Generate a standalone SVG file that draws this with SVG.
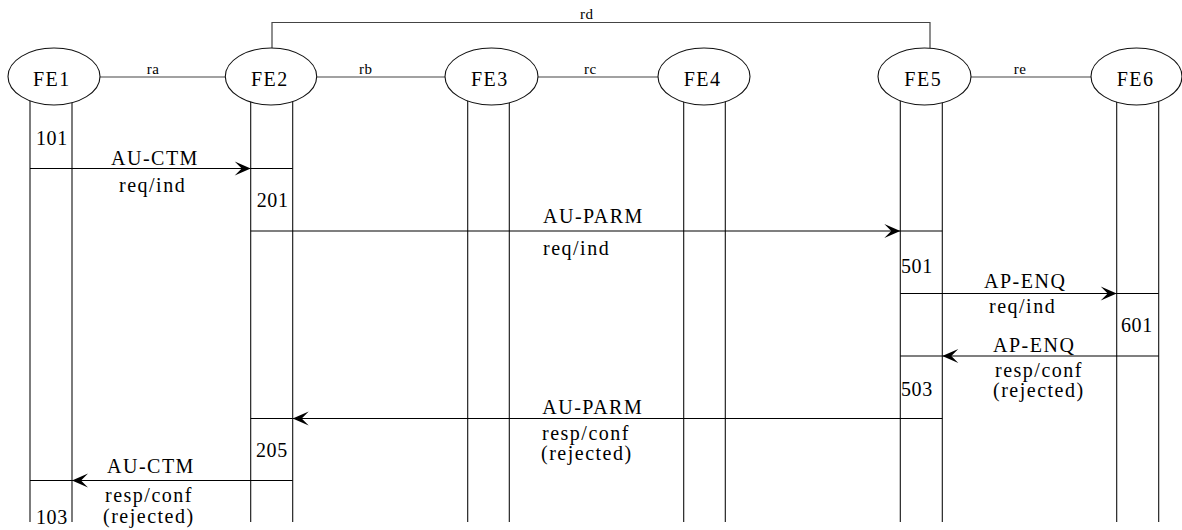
<svg xmlns="http://www.w3.org/2000/svg" width="1182" height="530" viewBox="0 0 1182 530">
<style>
.t{font-family:"Liberation Serif","Times New Roman",serif;font-size:20px;letter-spacing:1.5px;fill:#000}
.n{letter-spacing:0.6px}
.s{font-family:"Liberation Serif","Times New Roman",serif;font-size:15px;letter-spacing:0.6px;fill:#000}
.ell{fill:#fff;stroke:#111;stroke-width:1.1}
.life{stroke:#111;stroke-width:1.1;fill:none}
.link{stroke:#444;stroke-width:1.2;fill:none}
.msg{stroke:#000;stroke-width:1.1;fill:none}
</style>
<defs>
<marker id="ah" viewBox="-17 -8 18 16" refX="0" refY="0" markerWidth="18" markerHeight="16" markerUnits="userSpaceOnUse" orient="auto">
<path d="M0,0 L-16,-7 L-9,0 L-16,7 z" fill="#000"/>
</marker>
</defs>
<g id="links">
<path class="link" d="M100,77 H225.3"/>
<path class="link" d="M316.7,77 H445"/>
<path class="link" d="M538,77 H658"/>
<path class="link" d="M971,77 H1091"/>
<path class="link" d="M272,48 V22.5 H930 V48"/>
<text class="s" x="146.7" y="74">ra</text>
<text class="s" x="359" y="74">rb</text>
<text class="s" x="584" y="74">rc</text>
<text class="s" x="1013.7" y="74">re</text>
<text class="s" x="580" y="19">rd</text>
</g>
<g id="FE1">
<path class="life" d="M30,95 V522 M72,95 V522"/>
<ellipse class="ell" cx="54" cy="76.5" rx="46" ry="28.5"/>
<text class="t" x="33" y="86">FE1</text>
</g>
<g id="FE2">
<path class="life" d="M250.7,95 V522 M292.7,95 V522"/>
<ellipse class="ell" cx="271" cy="76.5" rx="45.7" ry="28.5"/>
<text class="t" x="251" y="86">FE2</text>
</g>
<g id="FE3">
<path class="life" d="M467.7,95 V522 M509.3,95 V522"/>
<ellipse class="ell" cx="491.5" cy="76.5" rx="46.5" ry="28.5"/>
<text class="t" x="471" y="86">FE3</text>
</g>
<g id="FE4">
<path class="life" d="M683.7,95 V522 M725.3,95 V522"/>
<ellipse class="ell" cx="704" cy="76.5" rx="46" ry="28.5"/>
<text class="t" x="683.7" y="86">FE4</text>
</g>
<g id="FE5">
<path class="life" d="M900.3,95 V522 M942.3,95 V522"/>
<ellipse class="ell" cx="924.5" cy="76.5" rx="46.5" ry="28.5"/>
<text class="t" x="904.3" y="86">FE5</text>
</g>
<g id="FE6">
<path class="life" d="M1116.7,95 V522 M1158.7,95 V522"/>
<ellipse class="ell" cx="1136.5" cy="76.5" rx="45.5" ry="28.5"/>
<text class="t" x="1116.7" y="86">FE6</text>
</g>
<g id="connectors">
<path class="msg" d="M30,168.5 H250.7" marker-end="url(#ah)"/>
<path class="msg" d="M250.7,168.5 H292.7"/>
<path class="msg" d="M250.7,231 H900.3" marker-end="url(#ah)"/>
<path class="msg" d="M900.3,231 H942.3"/>
<path class="msg" d="M900.3,293.5 H1116.7" marker-end="url(#ah)"/>
<path class="msg" d="M1116.7,293.5 H1158.7"/>
<path class="msg" d="M1158.7,356 H942.3" marker-end="url(#ah)"/>
<path class="msg" d="M942.3,356 H900.3"/>
<path class="msg" d="M942.3,418.5 H292.7" marker-end="url(#ah)"/>
<path class="msg" d="M292.7,418.5 H250.7"/>
<path class="msg" d="M292.7,480.5 H72" marker-end="url(#ah)"/>
<path class="msg" d="M72,480.5 H30"/>
</g>
<g id="labels">
<text class="t n" x="36" y="145">101</text>
<text class="t" x="111" y="165">AU-CTM</text>
<text class="t" x="119" y="192">req/ind</text>
<text class="t n" x="256.7" y="207">201</text>
<text class="t" x="543" y="223">AU-PARM</text>
<text class="t" x="543" y="255">req/ind</text>
<text class="t n" x="901" y="273">501</text>
<text class="t" x="984" y="288">AP-ENQ</text>
<text class="t" x="989" y="313">req/ind</text>
<text class="t n" x="1121" y="332">601</text>
<text class="t" x="993" y="352">AP-ENQ</text>
<text class="t" x="995" y="376.5">resp/conf</text>
<text class="t" x="993" y="397">(rejected)</text>
<text class="t n" x="901" y="396">503</text>
<text class="t" x="542.3" y="414">AU-PARM</text>
<text class="t" x="542" y="440">resp/conf</text>
<text class="t" x="541" y="460">(rejected)</text>
<text class="t n" x="256" y="457">205</text>
<text class="t" x="107" y="473">AU-CTM</text>
<text class="t" x="105" y="502">resp/conf</text>
<text class="t" x="103" y="522.5">(rejected)</text>
<text class="t n" x="36" y="524">103</text>
</g>
</svg>
